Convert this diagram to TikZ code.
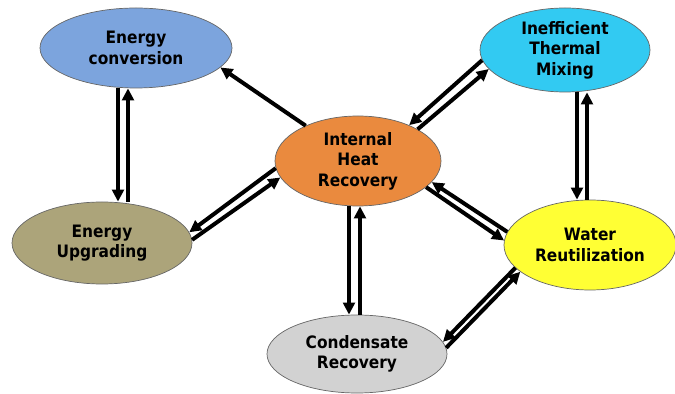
\documentclass[tikz,border=0pt]{standalone}
\usepackage{fontspec}
\setsansfont{DejaVu Sans Condensed}
\usetikzlibrary{arrows.meta,calc,shapes.geometric}
\definecolor{hrblue}{RGB}{124,164,221}
\definecolor{hrcyan}{RGB}{50,202,242}
\definecolor{hrorange}{RGB}{234,138,62}
\definecolor{hrkhaki}{RGB}{172,164,122}
\definecolor{hryellow}{RGB}{255,255,52}
\definecolor{hrgray}{RGB}{210,210,210}
\begin{document}
\begin{tikzpicture}[x=.03cm,y=.03cm,font=\sffamily\bfseries\fontsize{14.6}{17.5}\selectfont,
    blob/.style={ellipse,draw=black!60,line width=.6pt,inner sep=0pt,align=center,text=black},
    arr/.style={-{Triangle[length=.36cm,width=.35cm]},line width=.12cm}]
  \useasboundingbox (0,0) rectangle (675,394);
  \node[blob,fill=hrblue,minimum width=5.76cm,minimum height=2.4cm] (conv) at (136,346) {Energy\\conversion};
  \node[blob,fill=hrcyan,minimum width=5.1cm,minimum height=2.52cm] (mix) at (565,344) {Inefficient\\Thermal\\Mixing};
  \node[blob,fill=hrorange,minimum width=4.98cm,minimum height=2.7cm] (ihr) at (358,233) {Internal\\Heat\\Recovery};
  \node[blob,fill=hrkhaki,minimum width=5.4cm,minimum height=2.46cm] (upg) at (102,151) {Energy\\Upgrading};
  \node[blob,fill=hryellow,minimum width=5.16cm,minimum height=2.7cm] (water) at (590,149) {Water\\Reutilization};
  \node[blob,fill=hrgray,minimum width=5.4cm,minimum height=2.34cm] (cond) at (357,40) {Condensate\\Recovery};

  \draw[arr] (ihr.146) -- (conv.-13);
  \draw[arr] ($(conv.south)+(-18,0)$) -- ($(upg.north)+(16,0)$);
  \draw[arr] ($(upg.north)+(26,0)$) -- ($(conv.south)+(-8,0)$);
  \draw[arr] (ihr.185) -- (upg.7);
  \draw[arr] (upg.2) -- (ihr.192);
  \draw[arr] (mix.187) -- (ihr.35);
  \draw[arr] (ihr.28) -- (mix.194);
  \draw[arr] ($(mix.south)+(12,0)$) -- ($(water.north)+(-13,0)$);
  \draw[arr] ($(water.north)+(-3,0)$) -- ($(mix.south)+(22,0)$);
  \draw[arr] (water.171) -- (ihr.-16);
  \draw[arr] (ihr.-21) -- (water.177);
  \draw[arr] ($(ihr.south)+(-9,0)$) -- ($(cond.north)+(-8,0)$);
  \draw[arr] ($(cond.north)+(3,0)$) -- ($(ihr.south)+(2,0)$);
  \draw[arr] (water.197) -- (cond.8);
  \draw[arr] (cond.4) -- (water.201);
\end{tikzpicture}
\end{document}
